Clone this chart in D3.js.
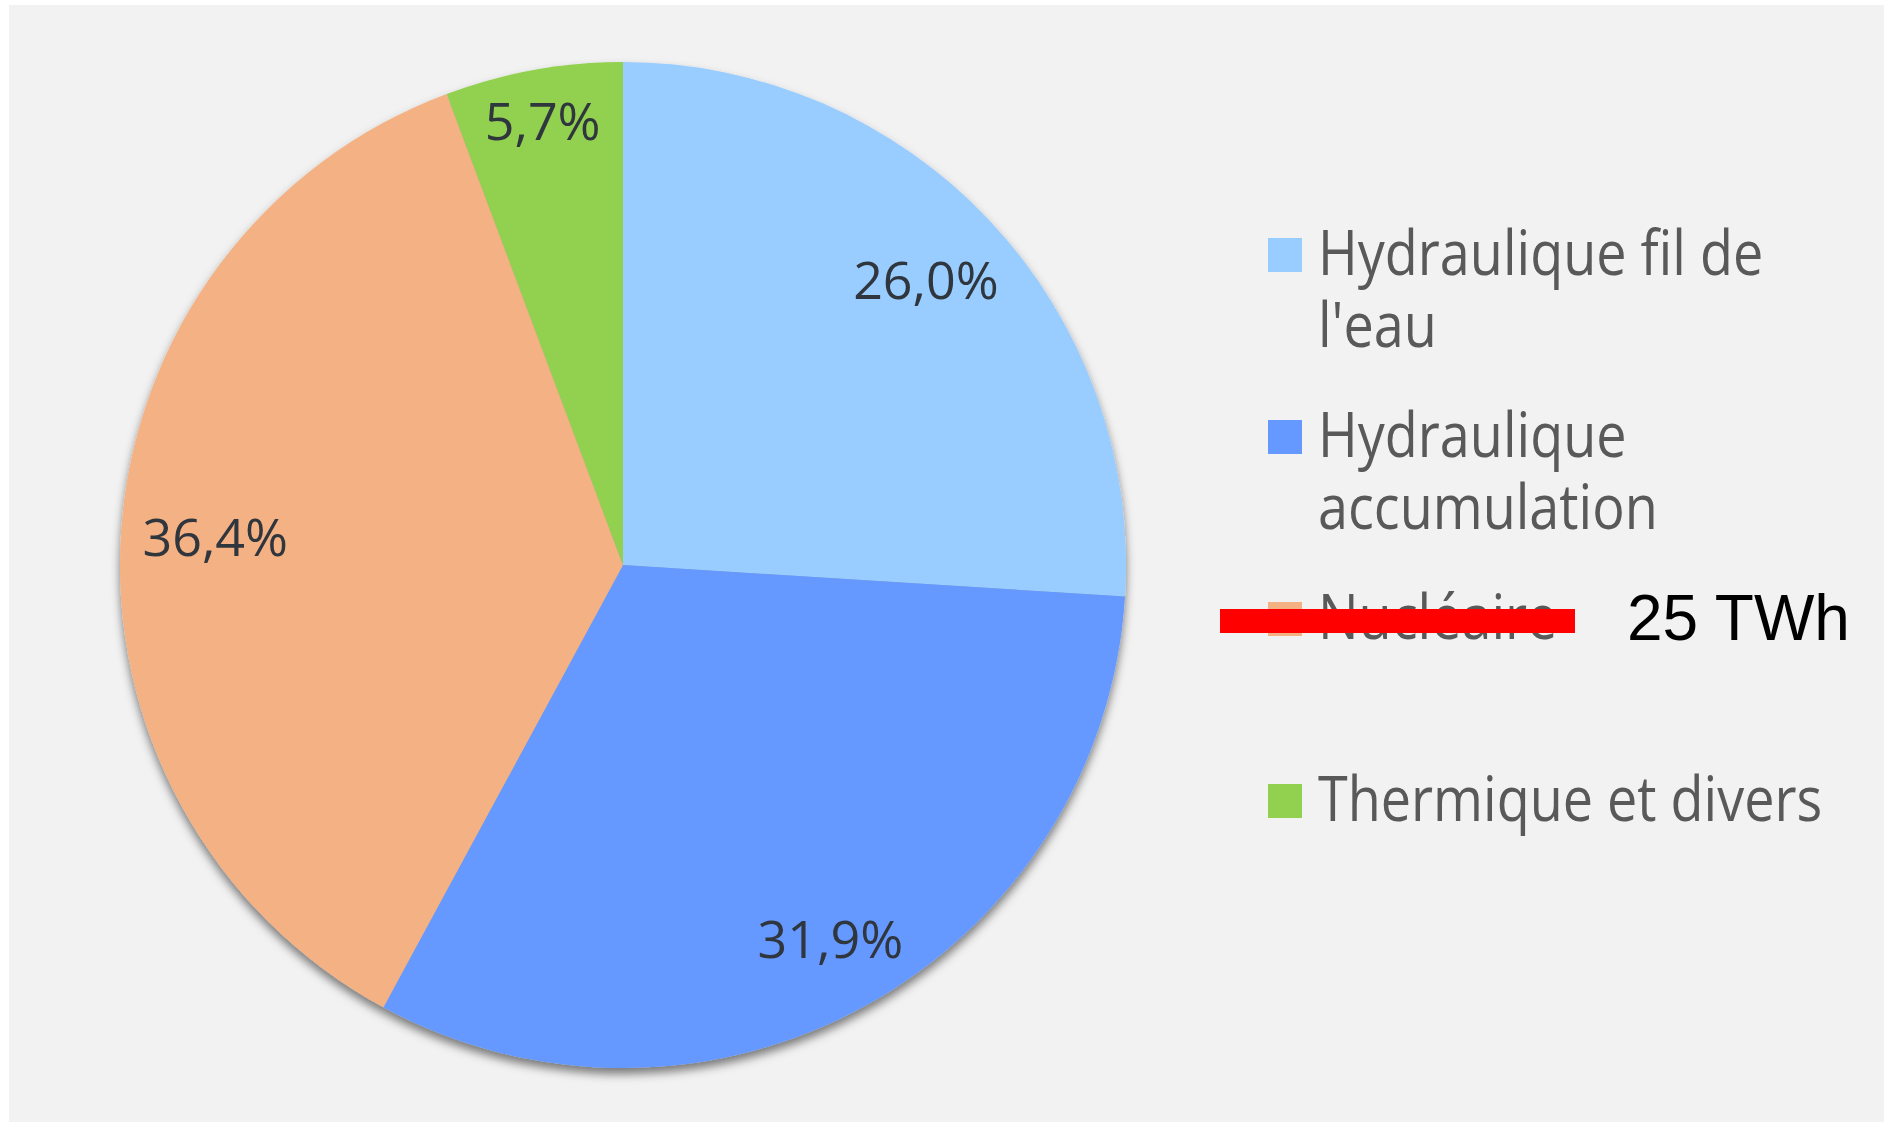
<!DOCTYPE html>
<html>
<head>
<meta charset="utf-8">
<script src="https://cdn.jsdelivr.net/npm/d3@7"></script>
<style>
  body { margin: 0; background: #ffffff; }
  svg { display: block; }
</style>
</head>
<body>
<div class="chart"></div>
<script>
// data
var categories = ["Hydraulique fil de l'eau", "Hydraulique accumulation", "Nucléaire", "Thermique et divers"];
var shares = [26.0, 31.9, 36.4, 5.7];
var legendLines = [["Hydraulique fil de", "l'eau"], ["Hydraulique", "accumulation"], ["Nucléaire"], ["Thermique et divers"]];
var colors = ["#99ccff", "#6699ff", "#f4b183", "#92d050"];
var struckCategory = "Nucléaire";
var replacementText = "25 TWh";

var width = 1886;
var height = 1122;

var svg = d3.select('.chart').append('svg')
    .attr('width', width)
    .attr('height', height);

// grey chart area
svg.append('rect')
    .attr('x', 9).attr('y', 5)
    .attr('width', 1875).attr('height', height - 5)
    .style('fill', '#f2f2f2');

var defs = svg.append('defs');
var shadow = defs.append('filter').attr('id', 'shadow')
    .attr('x', '-10%').attr('y', '-10%').attr('width', '120%').attr('height', '120%');
shadow.append('feDropShadow')
    .attr('dx', 0).attr('dy', 6).attr('stdDeviation', 5)
    .attr('flood-color', '#000').attr('flood-opacity', 0.5);

var cx = 623, cy = 565, radius = 503;

var color = d3.scaleOrdinal().domain(categories).range(colors);

var pie = d3.pie().sort(null).value(function (d, i) { return shares[i]; });
var arcs = pie(categories);

var arc = d3.arc().innerRadius(0).outerRadius(radius);

var fr = d3.formatLocale({ decimal: ",", thousands: " ", grouping: [3], currency: ["", "€"] });
var pct = fr.format(".1f");

var g = svg.append('g').attr('transform', 'translate(' + cx + ',' + cy + ')');

g.append('g').attr('filter', 'url(#shadow)')
  .selectAll('path.slice')
    .data(arcs)
  .enter().append('path')
    .attr('class', 'slice')
    .attr('d', arc)
    .style('fill', function (d) { return color(d.data); });

// labels: pushed out along the bisector until the far corner of the text box
// touches a circle of radius labelR (roughly what excel does)
var labelR = radius * 0.96;
var labelSize = 52;

g.selectAll('text.label')
    .data(arcs)
  .enter().append('text')
    .attr('class', 'label')
    .attr('text-anchor', 'middle')
    .attr('dy', '0.36em')
    .style('font-family', '"Open Sans", "DejaVu Sans", sans-serif')
    .style('font-size', labelSize + 'px')
    .style('fill', '#2f363d')
    .text(function (d) { return pct(d.value) + '%'; })
    .each(function (d) {
      var a = (d.startAngle + d.endAngle) / 2;
      var ux = Math.sin(a), uy = -Math.cos(a);
      var hw = this.getComputedTextLength() / 2;
      var hh = labelSize * 0.36;
      var b = Math.abs(ux) * hw + Math.abs(uy) * hh;
      var c = hw * hw + hh * hh - labelR * labelR;
      var t = -b + Math.sqrt(b * b - c);
      d3.select(this).attr('x', t * ux).attr('y', t * uy);
    });

// legend
var legendX = 1268, legendY = 238, step = 182, box = 34, lineH = 72;

var items = svg.selectAll('g.legend')
    .data(categories)
  .enter().append('g')
    .attr('class', 'legend')
    .attr('transform', function (d, i) { return 'translate(' + legendX + ',' + (legendY + i * step) + ')'; });

items.append('rect')
    .attr('width', box).attr('height', box)
    .style('fill', function (d) { return color(d); });

items.each(function (d, i) {
  var item = d3.select(this);
  legendLines[i].forEach(function (line, j) {
    var t = item.append('text')
        .attr('x', 50)
        .attr('y', 37 + j * lineH)
        .style('font-family', '"Open Sans", "Noto Sans", sans-serif')
        .style('font-size', '62px')
        .style('fill', '#595959')
        .text(line);
    // the original font is narrower, squeeze to match
    var w = t.node().getComputedTextLength();
    t.attr('textLength', w * 0.87).attr('lengthAdjust', 'spacingAndGlyphs');
  });
});

// strike-out over the nuclear entry and its replacement value
var struck = items.filter(function (d) { return d === struckCategory; });
struck.append('rect')
    .attr('x', -48).attr('y', 7)
    .attr('width', 355).attr('height', 24)
    .style('fill', '#ff0000');
struck.append('text')
    .attr('x', 359).attr('y', 38)
    .style('font-family', '"Liberation Sans", Arial, sans-serif')
    .style('font-size', '64px')
    .style('fill', '#000000')
    .text(replacementText);
</script>
</body>
</html>
